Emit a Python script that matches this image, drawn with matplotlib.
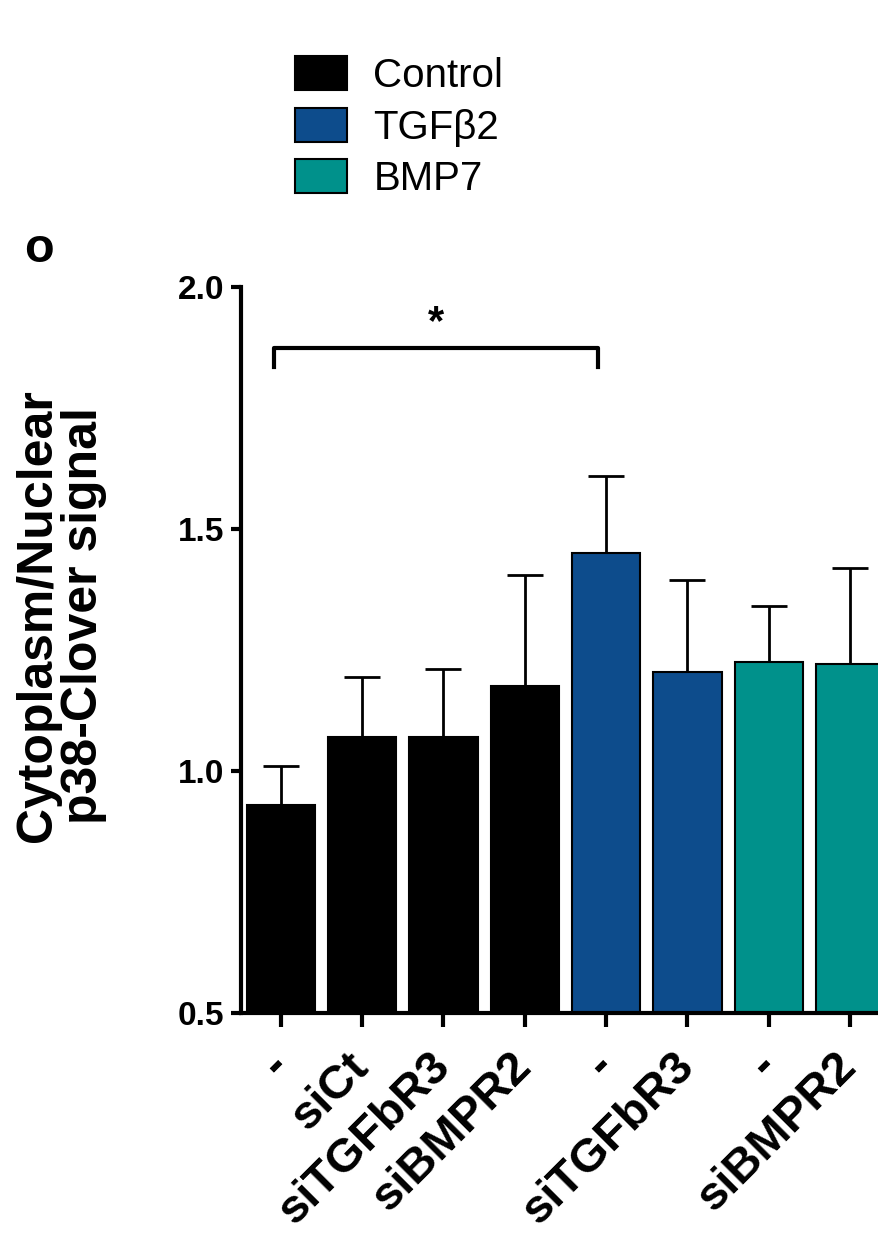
import numpy as np
import matplotlib
matplotlib.use("Agg")
import matplotlib.pyplot as plt
from matplotlib.patches import Patch

plt.rcParams['font.family'] = ['Liberation Sans', 'DejaVu Sans']

# data
labels = ["-", "siCt", "siTGFbR3", "siBMPR2", "-", "siTGFbR3", "-", "siBMPR2"]
groups = ["Control", "Control", "Control", "Control", "TGFβ2", "TGFβ2", "BMP7", "BMP7"]
means = [0.93, 1.07, 1.07, 1.175, 1.45, 1.205, 1.225, 1.22]
sems = [0.08, 0.125, 0.14, 0.23, 0.16, 0.19, 0.115, 0.20]
legend_names = ["Control", "TGFβ2", "BMP7"]
group_colors = {"Control": "#000000", "TGFβ2": "#0d4c8c", "BMP7": "#00918b"}

fig = plt.figure(figsize=(8.79, 12.46), dpi=100)
# axes runs off the right edge like the cropped original
ax = fig.add_axes([0.2742, 0.187, 0.74, 0.5827])

x = np.arange(len(means))
cols = [group_colors[g] for g in groups]
ax.bar(x, means, width=0.84, color=cols, edgecolor="black", linewidth=1.5, zorder=2)
ax.errorbar(x, means, yerr=[np.zeros(len(sems)), sems], fmt="none", ecolor="black",
            elinewidth=2, capsize=13, capthick=2, zorder=1)

ax.set_ylim(0.5, 2.0)
ax.set_xlim(-0.49, 7.51)
ax.set_yticks([0.5, 1.0, 1.5, 2.0])
ax.set_yticklabels(["0.5", "1.0", "1.5", "2.0"], fontsize=24, fontweight="bold")
ax.set_xticks(x)
ax.set_xticklabels(labels, fontsize=34, fontweight="bold", rotation=45,
                   ha="right", va="center", rotation_mode="anchor")
ax.tick_params(axis="y", length=7, width=3, pad=5)
ax.tick_params(axis="x", length=10, width=3, pad=24)
for s in ["top", "right"]:
    ax.spines[s].set_visible(False)
for s in ["left", "bottom"]:
    ax.spines[s].set_linewidth(3)

fig.text(0.069, 0.506, "Cytoplasm/Nuclear\np38-Clover signal", fontsize=36,
         fontweight="bold", rotation=90, ha="center", va="center",
         multialignment="center", linespacing=1.0)

# significance bracket
ax.plot([-0.08, -0.08, 3.9, 3.9], [1.835, 1.874, 1.874, 1.835], color="black", lw=3,
        clip_on=False)
ax.text(1.91, 1.885, "*", ha="center", va="bottom", fontsize=30, fontweight="bold")

fig.text(0.044, 0.80, "o", fontsize=35, fontweight="bold", ha="center", va="center")

handles = [Patch(facecolor=group_colors[n], edgecolor="black", linewidth=1.5)
           for n in legend_names]
fig.legend(handles, legend_names, loc="upper left", bbox_to_anchor=(0.317, 0.968),
           frameon=False, fontsize=29, handlelength=1.3, handleheight=0.92,
           handletextpad=0.65, labelspacing=0.32, borderaxespad=0)

fig.savefig("out.png", dpi=100)
